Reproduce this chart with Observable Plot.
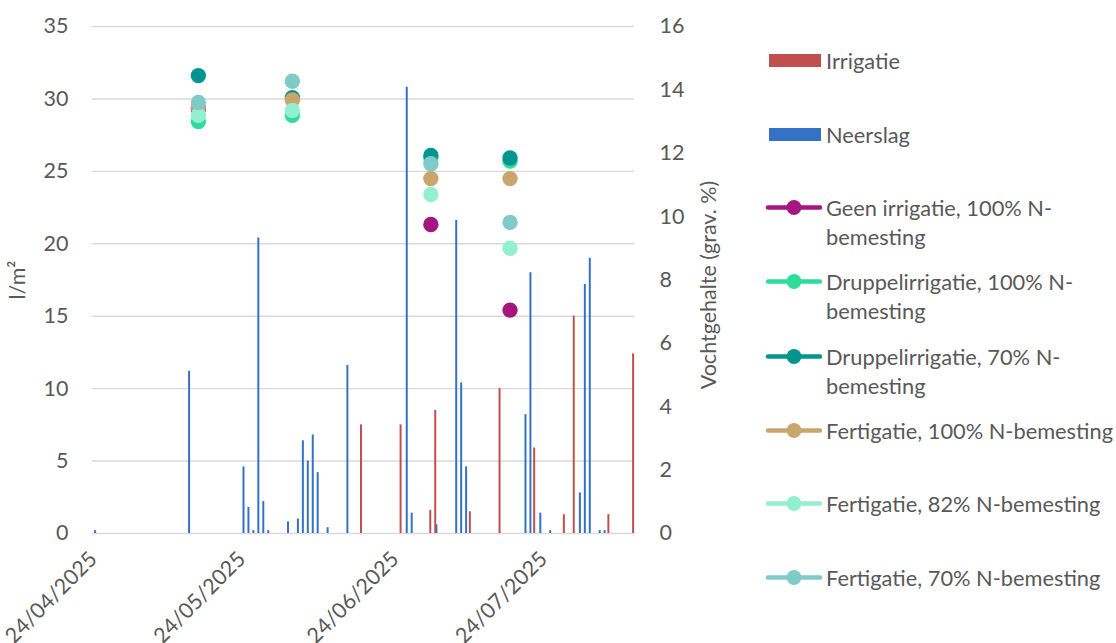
<!DOCTYPE html>
<html>
<head>
<meta charset="utf-8">
<script src="https://cdn.jsdelivr.net/npm/d3@7"></script>
<script src="https://cdn.jsdelivr.net/npm/@observablehq/plot@0.6"></script>
<style>
  html, body { margin: 0; padding: 0; background: #fff; }
  #wrap { position: relative; width: 1116px; height: 643px; font-family: Lato, "Open Sans", sans-serif; color: #595959; }
  #chart { position: absolute; left: 0; top: 0; }
  .lg { position: absolute; left: 764px; display: flex; align-items: flex-start; font-size: 21.8px; line-height: 29px; white-space: pre-line; }
  .lg svg { flex: none; }
  .lg span { margin-left: 4px; }
</style>
</head>
<body>
<div id="wrap"><div id="chart"></div></div>
<script>
// ---- Data ----
const irrigDates = ["2025-06-17","2025-06-25","2025-07-01","2025-07-02","2025-07-09","2025-07-15","2025-07-22","2025-07-28","2025-07-30","2025-08-06","2025-08-11"];
const irrigValues = [7.5, 7.5, 1.6, 8.5, 1.5, 10.0, 5.9, 1.3, 15.0, 1.3, 12.4];

const rainDates = ["2025-04-24","2025-05-13","2025-05-24","2025-05-25","2025-05-26","2025-05-27","2025-05-28","2025-05-29",
  "2025-06-02","2025-06-04","2025-06-05","2025-06-06","2025-06-07","2025-06-08","2025-06-10","2025-06-14",
  "2025-06-26","2025-06-27","2025-07-02","2025-07-06","2025-07-07","2025-07-08","2025-07-20","2025-07-21",
  "2025-07-23","2025-07-25","2025-07-31","2025-08-01","2025-08-02","2025-08-04","2025-08-05"];
const rainValues = [0.2, 11.2, 4.6, 1.8, 0.2, 20.4, 2.2, 0.2,
  0.8, 1.0, 6.4, 5.0, 6.8, 4.2, 0.4, 11.6,
  30.8, 1.4, 0.6, 21.6, 10.4, 4.6, 8.2, 18.0,
  1.4, 0.2, 2.8, 17.2, 19.0, 0.2, 0.2];

const moistDates = ["2025-05-15","2025-06-03","2025-07-01","2025-07-17"];
const seriesNames = [
  "Geen irrigatie, 100% N-\nbemesting",
  "Druppelirrigatie, 100% N-\nbemesting",
  "Druppelirrigatie, 70% N-\nbemesting",
  "Fertigatie, 100% N-bemesting",
  "Fertigatie, 82% N-bemesting",
  "Fertigatie, 70% N-bemesting"
];
const seriesColors = ["#A5177F", "#2EDC9C", "#00968F", "#C9A66B", "#92F0D0", "#80CAC8"];
const geen    = [13.4, null, 9.75, 7.05];
const drup100 = [13.0, 13.2, 11.85, 11.75];
const drup70  = [14.45, 13.75, 11.93, 11.85];
const fert100 = [13.45, 13.68, 11.2, 11.2];
const fert82  = [13.2, 13.35, 10.7, 9.0];
const fert70  = [13.6, 14.27, 11.67, 9.82];
const seriesValues = [geen, drup100, drup70, fert100, fert82, fert70];

const leftTicks = [0, 5, 10, 15, 20, 25, 30, 35];
const rightTicks = [0, 2, 4, 6, 8, 10, 12, 14, 16];
const xTickDates = ["2025-04-24","2025-05-24","2025-06-24","2025-07-24"];
const barNames = ["Irrigatie", "Neerslag"];
const barColors = ["#C0504D", "#3472C6"];

// ---- Build tables ----
const parse = s => new Date(s + "T00:00:00Z");
const irrig = irrigDates.map((d, i) => ({date: parse(d), value: irrigValues[i]}));
const rain = rainDates.map((d, i) => ({date: parse(d), value: rainValues[i]}));
const moist = [];
seriesNames.forEach((name, s) => {
  moistDates.forEach((d, i) => {
    const v = seriesValues[s][i];
    if (v != null) moist.push({series: name, date: parse(d), value: v});
  });
});
const k = 35 / 16; // right axis -> left axis scale
const DAY = 864e5;
const FS = 21.5;

const chart = Plot.plot({
  width: 750,
  height: 643,
  marginLeft: 92,
  marginRight: 116,
  marginTop: 26,
  marginBottom: 110,
  style: {fontFamily: "Lato, 'Open Sans', sans-serif", color: "#595959", background: "transparent"},
  x: {type: "utc", domain: [new Date(parse("2025-04-24") - 0.4 * DAY), new Date(+parse("2025-08-11") + 0.16 * DAY)]},
  y: {domain: [0, 35]},
  color: {domain: seriesNames, range: seriesColors},
  marks: [
    Plot.gridY(leftTicks, {stroke: "#D9D9D9", strokeOpacity: 1, strokeWidth: 1.4}),
    Plot.axisY(leftTicks, {tickSize: 0, tickPadding: 24, fontSize: FS, label: null}),
    Plot.axisY(rightTicks.map(v => v * k), {anchor: "right", tickSize: 0, tickPadding: 25, fontSize: FS, label: null,
      tickFormat: v => String(Math.round(v / k))}),
    Plot.axisX(xTickDates.map(parse), {tickSize: 0, tickRotate: -45, tickPadding: 22, dx: -1, fontSize: FS, label: null,
      tickFormat: d3.utcFormat("%d/%m/%Y")}),
    Plot.ruleX(rain, {x: "date", y1: 0, y2: "value", stroke: barColors[1], strokeWidth: 2, dx: 0.6}),
    Plot.ruleX(irrig, {x: "date", y1: 0, y2: "value", stroke: barColors[0], strokeWidth: 2, dx: -0.6}),
    Plot.dot(moist, {x: "date", y: d => d.value * k, fill: "series", r: 7.7, stroke: "none"}),
    Plot.text(["l/m²"], {frameAnchor: "left", textAnchor: "middle", dx: -74, rotate: -90, fontSize: FS, fill: "#595959"}),
    Plot.text(["Vochtgehalte (grav. %)"], {frameAnchor: "right", textAnchor: "middle", dx: 75, dy: 5, rotate: -90, fontSize: FS, fill: "#595959"})
  ]
});
document.getElementById("chart").appendChild(chart);

// ---- Legend ----
const wrap = document.getElementById("wrap");
const items = [
  {name: barNames[0], color: barColors[0], kind: "bar", y: 60},
  {name: barNames[1], color: barColors[1], kind: "bar", y: 134},
  {name: seriesNames[0], color: seriesColors[0], kind: "line", y: 207},
  {name: seriesNames[1], color: seriesColors[1], kind: "line", y: 281.5},
  {name: seriesNames[2], color: seriesColors[2], kind: "line", y: 356},
  {name: seriesNames[3], color: seriesColors[3], kind: "line", y: 430},
  {name: seriesNames[4], color: seriesColors[4], kind: "line", y: 503},
  {name: seriesNames[5], color: seriesColors[5], kind: "line", y: 577}
];
items.forEach(it => {
  const div = document.createElement("div");
  div.className = "lg";
  div.style.top = (it.y - 14.5) + "px";
  const sw = it.kind === "bar"
    ? `<svg width="58" height="29"><rect x="5" y="8" width="52" height="13" fill="${it.color}"/></svg>`
    : `<svg width="58" height="29"><line x1="4" y1="14.5" x2="56" y2="14.5" stroke="${it.color}" stroke-width="4.5" stroke-linecap="round"/><circle cx="30" cy="14.5" r="7.5" fill="${it.color}"/></svg>`;
  div.innerHTML = sw + `<span></span>`;
  div.querySelector("span").textContent = it.name;
  wrap.appendChild(div);
});
</script>
</body>
</html>
